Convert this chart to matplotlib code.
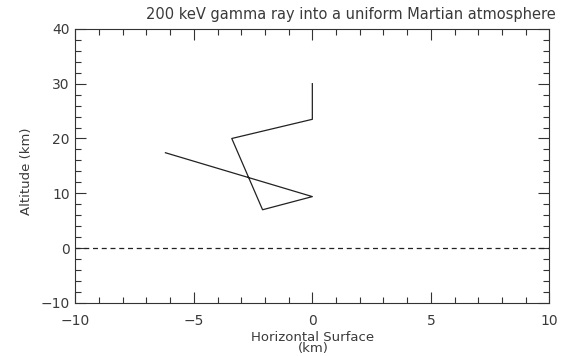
import matplotlib
matplotlib.use("Agg")
import matplotlib.pyplot as plt
from matplotlib.ticker import MultipleLocator

# Photon path (km)
path_x = [0.0, 0.0, -3.4, -2.1, 0.0, -6.2]
path_y = [30.0, 23.5, 20.0, 7.0, 9.4, 17.4]

surface_x = [-10, 10]
surface_y = [0, 0]

title = "200 keV gamma ray into a uniform Martian atmosphere"
xlabel_1 = "Horizontal Surface"
xlabel_2 = "(km)"
ylabel = "Altitude (km)"

plt.rcParams["font.family"] = "DejaVu Sans"
tc = "#3a3a3a"

fig = plt.figure(figsize=(5.71, 3.56), dpi=100)
ax = fig.add_axes([0.132, 0.149, 0.830, 0.770])

ax.plot(path_x, path_y, color="#222222", lw=0.9)
ax.plot(surface_x, surface_y, color="#222222", lw=0.9, ls=(0, (4, 3)))

ax.set_xlim(-10, 10)
ax.set_ylim(-10, 40)
ax.xaxis.set_major_locator(MultipleLocator(5))
ax.xaxis.set_minor_locator(MultipleLocator(1))
ax.yaxis.set_major_locator(MultipleLocator(10))
ax.yaxis.set_minor_locator(MultipleLocator(2))
ax.tick_params(which="both", direction="in", top=True, right=True,
               labelsize=10, colors="#333333", labelcolor=tc, width=0.8)
ax.tick_params(which="major", length=8)
ax.tick_params(which="minor", length=4)
ax.tick_params(axis="x", pad=8)
ax.tick_params(axis="y", pad=4)
for s in ax.spines.values():
    s.set_linewidth(0.8)
    s.set_color("#333333")

fig.text(0.615, 0.948, title, fontsize=10.5, ha="center", va="baseline", color=tc)
fig.text(0.548, 0.043, xlabel_1, fontsize=9.5, ha="center", va="baseline", color=tc)
fig.text(0.548, 0.010, xlabel_2, fontsize=9.5, ha="center", va="baseline", color=tc)
fig.text(0.047, 0.52, ylabel, fontsize=9.5, ha="center", va="center",
         rotation=90, color=tc)

fig.savefig("out.png", dpi=100, facecolor="white")
